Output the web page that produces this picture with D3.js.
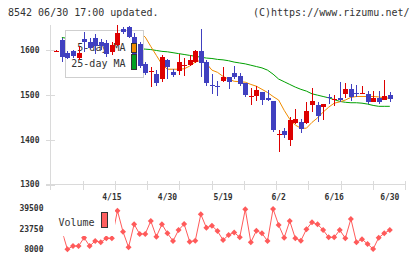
<!DOCTYPE html>
<html>
<head>
<meta charset="utf-8">
<script src="https://cdn.jsdelivr.net/npm/d3@7"></script>
<style>
  body { margin: 0; background: #fff; }
  svg { display: block; }
  text { font-family: "DejaVu Sans Mono", monospace; fill: #333; }
</style>
</head>
<body>
<svg id="chart" width="420" height="259"></svg>
<script>
// trading days 4/1 - 6/30
var dates = ["4/1","4/2","4/5","4/6","4/7","4/8","4/9","4/12","4/13","4/14","4/15","4/16","4/19","4/20","4/21","4/22","4/23","4/26","4/27","4/28","4/30",
  "5/6","5/7","5/10","5/11","5/12","5/13","5/14","5/17","5/18","5/19","5/20","5/21","5/24","5/25","5/26","5/27","5/28","5/31",
  "6/1","6/2","6/3","6/4","6/7","6/8","6/9","6/10","6/11","6/14","6/15","6/16","6/17","6/18","6/21","6/22","6/23","6/24","6/25","6/28","6/29","6/30"];
var labelDates = ["4/15","4/30","5/19","6/2","6/16","6/30"];

var open  = [1598,1623,1595,1598,1582,1625,1619,1627,1618,1617,1597,1613,1647,1652,1630,1615,1570,1552,1548,1536,1578,1552,1554,1566,1567,1574,1598,1574,1522,1521,1531,1541,1550,1542,1527,1495,1497,1507,1494,1486,1413,1420,1401,1438,1439,1438,1476,1477,1475,1495,1490,1494,1502,1513,1504,1503,1503,1485,1494,1489,1500];
var high  = [1600,1627,1598,1600,1609,1641,1627,1636,1625,1624,1620,1656,1652,1655,1640,1620,1575,1563,1556,1589,1580,1559,1593,1584,1589,1600,1649,1578,1548,1532,1564,1541,1566,1550,1527,1515,1520,1507,1512,1486,1423,1427,1451,1470,1446,1485,1515,1485,1481,1502,1500,1530,1528,1524,1522,1521,1510,1510,1510,1533,1507];
var low   = [1596,1574,1580,1584,1578,1597,1603,1593,1600,1586,1590,1610,1636,1627,1585,1560,1545,1518,1521,1530,1536,1540,1545,1542,1565,1572,1541,1521,1502,1499,1530,1514,1536,1520,1495,1477,1487,1477,1486,1418,1372,1405,1386,1436,1416,1435,1462,1440,1444,1480,1475,1485,1493,1487,1495,1503,1480,1485,1480,1489,1485];
var close = [1598.5,1584,1584,1587,1594,1619,1606,1609,1608,1593,1612,1640,1640,1629,1590,1566,1550,1553,1527,1585,1562,1546,1574,1567,1578,1598,1571,1527,1521,1520,1541,1530,1541,1524,1500,1497,1511,1489,1489,1420,1414,1410,1445,1446,1423,1464,1486,1453,1481,1493,1491,1489,1513,1496,1503,1504,1485,1494,1485,1497,1491];

var ma5 = [null,1588,1590,1592,1595,1600,1605,1608,1610,1612,1615,1620,1626,1632,1636,1640,1630,1609,1589,1569,1558,1558,1558,1559,1565,1574,1578,1571,1556,1551,1542,1536,1531,1530,1529,1524,1520,1513,1506,1497,1489,1466,1446,1433,1426,1426,1439,1449,1462,1473,1482,1485,1489,1495,1497,1497,1497,1497,1496,1494,1493];
var ma25 = [null,1629,1627,1625,1623,1621,1619,1617,1615,1613,1611,1610,1608,1607,1605,1604,1603,1602,1600,1598,1597,1595,1593,1591,1589,1587,1585,1583,1582,1580,1579,1577,1574,1572,1570,1567,1564,1561,1556,1547,1536,1530,1524,1518,1513,1509,1503,1500,1497,1494,1490,1486,1484,1483,1483,1482,1480,1477,1475,1475,1475];

var volume = [20000,22200,8000,10500,10500,16900,10500,14400,13400,16450,16450,37650,21500,9540,27200,19750,19750,29750,17700,27200,20300,14400,22800,27400,13800,14600,34900,24600,26100,22000,15100,19000,21000,17200,38700,13400,22300,20300,14400,39000,26700,16900,29700,16450,14600,23400,28700,27200,22800,17200,17200,22800,16450,31300,13400,15700,12100,8200,16900,20300,22800];

var priceTicks = [1300, 1400, 1500, 1600];
var volumeTicks = [8000, 23750, 39500];

var UP = "#dd0000", DOWN = "#4040c0", AXIS = "#dadada";

var svg = d3.select("#chart");
var plotL = 50.5, plotR = 405, plotT = 25, plotB = 184.5;

var x = d3.scaleLinear().domain([0, dates.length - 1]).range([56.3, 389.8]);
var y = d3.scaleLinear().domain([1300, 1657]).range([plotB, plotT]);
var yv = d3.scaleLinear().domain([8000, 39500]).range([249.3, 208.3]);
var grid = d3.scaleLinear().domain([0, 11]).range([plotL, plotR]);

svg.append("rect").attr("width", 420).attr("height", 259).attr("fill", "#fff");

// header
svg.append("text").attr("x", 8).attr("y", 16).style("font-size", "10px").text("8542 06/30 17:00 updated.");
svg.append("text").attr("x", 409.5).attr("y", 16).attr("text-anchor", "end").style("font-size", "10px").text("(C)https://www.rizumu.net/");

// axes
var ax = svg.append("g").attr("shape-rendering", "crispEdges").attr("stroke", AXIS);
ax.append("line").attr("x1", plotL).attr("x2", plotL).attr("y1", plotT).attr("y2", plotB + 5);
ax.append("line").attr("x1", plotL - 5).attr("x2", plotR).attr("y1", plotB).attr("y2", plotB);
ax.selectAll(".yt").data(priceTicks).enter().append("line")
  .attr("x1", plotL - 5).attr("x2", plotL + 4)
  .attr("y1", function(d) { return Math.round(y(d)) + 0.5; })
  .attr("y2", function(d) { return Math.round(y(d)) + 0.5; });
ax.selectAll(".xt").data(d3.range(1, 12)).enter().append("line")
  .attr("x1", function(d) { return Math.round(grid(d)) + 0.5; })
  .attr("x2", function(d) { return Math.round(grid(d)) + 0.5; })
  .attr("y1", plotB - 4).attr("y2", plotB + 5);

svg.selectAll(".yl").data(priceTicks).enter().append("text")
  .attr("x", 39.5).attr("y", function(d) { return y(d); })
  .attr("dy", "0.35em").attr("text-anchor", "end")
  .style("font-size", "8px").style("font-weight", "bold")
  .text(function(d) { return d; });

svg.selectAll(".dl").data(labelDates).enter().append("text")
  .attr("x", function(d) { return x(dates.indexOf(d)); }).attr("y", 197.5)
  .attr("dy", "0.35em").attr("text-anchor", "middle")
  .style("font-size", "8px").style("font-weight", "bold")
  .text(function(d) { return d; });

// price area
svg.append("clipPath").attr("id", "pclip").append("rect")
  .attr("x", plotL + 1).attr("y", plotT).attr("width", plotR - plotL).attr("height", plotB - plotT);
var plot = svg.append("g").attr("clip-path", "url(#pclip)");

var idx = d3.range(dates.length);
var line5 = d3.line().defined(function(d) { return ma5[d] != null; })
  .x(function(d) { return x(d); }).y(function(d) { return y(ma5[d]); });
var line25 = d3.line().defined(function(d) { return ma25[d] != null; })
  .x(function(d) { return x(d); }).y(function(d) { return y(ma25[d]); });

plot.append("path").attr("d", line25(idx)).attr("fill", "none").attr("stroke", "#00a000").attr("stroke-width", 1);
plot.append("path").attr("d", line5(idx)).attr("fill", "none").attr("stroke", "#f08c00").attr("stroke-width", 1);

// legend box (covers the MA lines, candles stay on top)
svg.append("rect").attr("x", 65.5).attr("y", 30.5).attr("width", 78).attr("height", 47)
  .attr("fill", "#fff").attr("stroke", "#cfcfcf").attr("shape-rendering", "crispEdges");
svg.append("text").attr("x", 125.5).attr("y", 47).attr("dy", "0.35em").attr("text-anchor", "end")
  .style("font-size", "10px").text("5-day MA");
svg.append("text").attr("x", 125.5).attr("y", 63).attr("dy", "0.35em").attr("text-anchor", "end")
  .style("font-size", "10px").text("25-day MA");

var candles = svg.append("g").attr("clip-path", "url(#pclip)").attr("shape-rendering", "crispEdges");
var c = candles.selectAll("g").data(idx).enter().append("g")
  .attr("fill", function(i) { return close[i] >= open[i] ? UP : DOWN; })
  .attr("stroke", function(i) { return close[i] >= open[i] ? UP : DOWN; });
c.append("line")
  .attr("x1", function(i) { return Math.round(x(i)) + 0.5; })
  .attr("x2", function(i) { return Math.round(x(i)) + 0.5; })
  .attr("y1", function(i) { return y(high[i]); })
  .attr("y2", function(i) { return y(low[i]); });
c.append("rect").attr("stroke", "none")
  .attr("x", function(i) { return Math.round(x(i)) - 2; })
  .attr("width", 5)
  .attr("y", function(i) { return Math.round(y(Math.max(open[i], close[i]))); })
  .attr("height", function(i) { return Math.max(1, Math.round(Math.abs(y(open[i]) - y(close[i])))); });

// legend swatches
svg.append("rect").attr("x", 131.5).attr("y", 43.5).attr("width", 5).attr("height", 9)
  .attr("fill", "#f08c00").attr("stroke", "#333").attr("shape-rendering", "crispEdges");
svg.append("rect").attr("x", 131.5).attr("y", 54.5).attr("width", 5).attr("height", 15)
  .attr("fill", "#00a020").attr("stroke", "#333").attr("shape-rendering", "crispEdges");

// volume
svg.selectAll(".vl").data(volumeTicks).enter().append("text")
  .attr("x", 43.5).attr("y", function(d) { return yv(d); })
  .attr("dy", "0.35em").attr("text-anchor", "end")
  .style("font-size", "8px").style("font-weight", "bold")
  .text(function(d) { return d; });

svg.append("clipPath").attr("id", "vclip").append("rect")
  .attr("x", 63.3).attr("y", 200).attr("width", plotR - 63.3).attr("height", 59);
var vol = svg.append("g").attr("clip-path", "url(#vclip)");
var VCOL = "#ff5a5a";
vol.append("path")
  .attr("d", d3.line().x(function(d) { return x(d); }).y(function(d) { return yv(volume[d]); })(idx))
  .attr("fill", "none").attr("stroke", VCOL).attr("stroke-width", 1);
vol.selectAll(".dot").data(idx).enter().append("path")
  .attr("transform", function(d) { return "translate(" + x(d) + "," + yv(volume[d]) + ")"; })
  .attr("d", "M0,-3L3,0L0,3L-3,0Z").attr("fill", VCOL);

svg.append("rect").attr("x", 55).attr("y", 206).attr("width", 60).attr("height", 30).attr("fill", "#fff");
svg.append("text").attr("x", 58.5).attr("y", 222.5).attr("dy", "0.35em").style("font-size", "10px").text("Volume");
svg.append("rect").attr("x", 101.5).attr("y", 212.5).attr("width", 6).attr("height", 15)
  .attr("fill", "#ff6060").attr("stroke", "#333").attr("shape-rendering", "crispEdges");
</script>
</body>
</html>
